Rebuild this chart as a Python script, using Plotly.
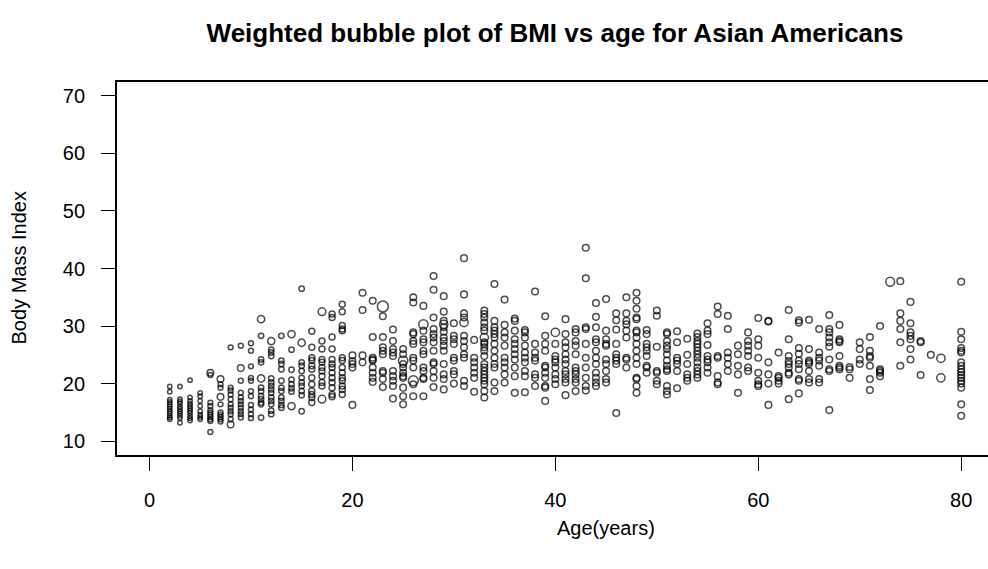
import plotly.graph_objects as go

# ---- data (age in years, BMI) ----
ages = [2, 3, 4, 5, 6, 7, 8, 9, 10, 11, 12, 13, 14, 15, 16, 17, 18, 19,
        20, 21, 22, 23, 24, 25, 26, 27, 28, 29, 30, 31, 32, 33, 34, 35, 36, 37, 38, 39,
        40, 41, 42, 43, 44, 45, 46, 47, 48, 49, 50, 51, 52, 53, 54, 55, 56, 57, 58, 59,
        60, 61, 62, 63, 64, 65, 66, 67, 68, 69, 70, 71, 72, 73, 74, 75, 76, 77, 78, 80]

bmi_by_age = [
    [19.5, 18.6, 17.2, 16.8, 16.4, 16.0, 15.6, 15.2, 14.8, 14.4, 14.1, 13.8],
    [19.5, 17.3, 16.9, 16.5, 16.0, 15.6, 15.2, 14.8, 14.4, 14.0, 13.2],
    [20.6, 17.6, 17.0, 16.5, 16.1, 15.7, 15.3, 14.9, 14.4, 14.0, 13.6],
    [18.4, 17.8, 17.0, 16.1, 15.2, 14.6, 14.2, 13.8],
    [21.9, 21.5, 16.7, 16.1, 15.4, 15.0, 14.6, 14.2, 13.8, 13.5, 11.6],
    [20.8, 19.9, 19.3, 17.7, 16.4, 15.0, 14.6, 14.2, 13.8, 13.4],
    [26.3, 19.3, 18.8, 18.1, 17.3, 16.4, 15.8, 15.2, 14.7, 13.8, 12.9],
    [26.6, 22.7, 20.5, 18.4, 17.6, 17.0, 16.4, 15.8, 15.2, 14.7, 14.1],
    [27.0, 25.7, 23.0, 21.0, 20.5, 18.7, 17.8, 16.3, 15.5, 14.7, 14.0],
    [31.2, 28.3, 24.2, 23.7, 20.9, 19.3, 18.7, 17.8, 17.3, 16.7, 16.4, 14.1],
    [27.4, 25.9, 25.4, 24.8, 20.9, 20.2, 19.6, 19.0, 18.4, 17.6, 17.0, 16.4, 15.3, 14.7],
    [28.3, 24.0, 23.4, 22.5, 20.5, 19.3, 18.7, 17.6, 17.0, 16.3, 15.8],
    [28.6, 25.9, 22.4, 20.7, 19.9, 19.2, 18.6, 16.1],
    [36.5, 27.1, 23.7, 23.1, 22.2, 21.0, 20.2, 19.6, 18.7, 18.0, 15.2],
    [29.1, 26.3, 24.5, 24.0, 23.1, 22.5, 21.0, 19.9, 18.7, 18.1, 17.6, 16.7],
    [32.5, 27.4, 26.0, 24.2, 23.7, 22.8, 22.2, 21.3, 20.2, 19.6, 17.3],
    [32.1, 31.5, 28.1, 26.0, 24.2, 23.4, 22.8, 21.9, 21.0, 20.2, 19.3, 18.1, 17.7],
    [33.8, 32.5, 30.1, 29.5, 29.2, 24.5, 24.0, 22.8, 21.9, 21.0, 20.5, 19.6, 19.0, 18.1],
    [24.9, 23.9, 23.4, 22.8, 16.3],
    [35.8, 32.8, 24.9, 23.7],
    [34.4, 28.1, 24.5, 24.2, 24.0, 22.8, 21.9, 21.0, 20.3],
    [33.4, 31.7, 28.1, 26.3, 25.7, 25.1, 22.2, 21.9, 20.8, 19.4],
    [29.4, 27.4, 26.0, 25.4, 24.8, 22.2, 21.3, 20.5, 19.6, 17.4],
    [26.0, 25.1, 24.0, 23.4, 22.8, 21.9, 21.3, 21.0, 19.3, 17.8, 16.4],
    [35.0, 34.1, 28.9, 28.6, 27.4, 26.9, 24.5, 24.0, 22.8, 20.5, 19.9, 17.8],
    [33.5, 30.3, 29.2, 27.7, 27.2, 25.7, 25.1, 22.8, 22.2, 21.0, 20.8, 17.8],
    [38.7, 36.3, 31.5, 29.5, 28.6, 28.0, 27.2, 25.7, 23.7, 23.4, 22.2, 21.0, 19.4],
    [35.2, 32.5, 30.9, 30.3, 29.8, 29.0, 28.0, 27.4, 26.6, 25.7, 23.4, 21.6, 20.8, 19.0],
    [30.5, 28.3, 27.7, 26.9, 24.5, 24.0, 22.2, 21.6, 20.0],
    [41.8, 35.5, 32.2, 31.5, 30.6, 28.3, 27.4, 26.3, 25.1, 24.5, 20.5, 19.6],
    [27.6, 24.5, 23.7, 22.8, 21.9, 21.0, 18.6],
    [32.7, 32.1, 31.5, 30.6, 29.8, 29.2, 28.0, 27.2, 26.9, 26.3, 25.7, 24.8, 23.4, 22.8,
     22.2, 21.6, 21.0, 20.5, 19.9, 18.7, 17.6],
    [37.3, 30.9, 29.8, 29.2, 28.6, 28.0, 26.9, 25.7, 24.5, 23.4, 22.8, 20.2, 18.7],
    [34.6, 30.2, 28.9, 28.0, 26.6, 24.5, 23.7, 22.8, 21.6, 20.2],
    [31.3, 30.9, 29.2, 27.7, 26.9, 26.0, 25.1, 24.2, 22.8, 21.3, 18.4],
    [29.3, 28.9, 28.0, 26.6, 25.4, 24.5, 23.7, 22.2, 21.3, 18.5],
    [36.0, 26.9, 25.4, 24.5, 24.0, 21.6, 21.0, 19.6],
    [31.7, 28.3, 26.9, 25.7, 23.1, 22.8, 21.9, 21.0, 19.6, 19.3, 17.0],
    [28.9, 26.9, 24.8, 24.2, 23.7, 22.8, 21.6, 20.8, 19.9],
    [31.2, 28.6, 27.2, 26.3, 25.1, 24.2, 23.4, 22.2, 21.6, 20.8, 20.2, 18.0],
    [29.5, 28.9, 27.4, 26.6, 25.1, 22.8, 22.2, 21.6, 20.8, 20.2, 18.7],
    [43.6, 38.3, 29.8, 29.5, 26.9, 24.5, 22.8, 21.0, 19.6, 18.8],
    [34.0, 31.6, 29.8, 27.7, 27.2, 25.7, 24.5, 23.4, 21.9, 21.0, 20.2, 19.6],
    [34.7, 29.2, 27.7, 26.9, 26.6, 24.2, 23.4, 22.2, 20.8, 20.2],
    [32.2, 31.0, 29.4, 26.9, 25.1, 24.5, 24.0, 23.4, 14.9],
    [35.0, 32.2, 30.9, 30.3, 29.2, 28.0, 24.5, 24.2, 22.8],
    [35.8, 34.4, 33.0, 31.5, 31.2, 29.2, 28.9, 28.0, 26.9, 25.7, 24.5, 23.4, 21.0, 20.8,
     19.6, 18.4],
    [29.3, 28.6, 26.9, 26.3, 25.7, 24.8, 23.1, 22.8, 21.9],
    [32.7, 31.8, 26.4, 22.2, 21.9, 20.5, 19.9],
    [28.9, 28.6, 27.4, 26.6, 26.0, 25.1, 24.0, 23.1, 22.5, 22.2, 19.6, 18.7, 18.1],
    [29.1, 27.2, 24.5, 24.0, 23.4, 22.2, 19.2],
    [27.8, 25.0, 23.4, 21.6, 21.0, 20.5],
    [28.7, 28.1, 27.4, 26.9, 26.3, 25.7, 25.1, 24.5, 23.7, 22.8, 22.2, 21.6, 21.0],
    [30.5, 29.2, 28.6, 26.7, 24.8, 24.2, 23.7, 22.8, 21.9],
    [33.4, 32.1, 24.8, 24.5, 21.3, 20.2, 19.9],
    [31.8, 29.5, 25.4, 24.5, 23.4, 22.2],
    [26.6, 25.1, 23.1, 21.6, 18.4],
    [28.9, 27.4, 26.6, 25.7, 24.8, 22.8, 22.2],
    [31.4, 27.7, 26.6, 24.5, 21.9, 20.5, 19.9, 19.6],
    [30.9, 30.8, 23.7, 21.6, 20.0, 16.3],
    [25.4, 21.3, 21.0, 20.5, 20.0],
    [32.8, 27.7, 24.8, 23.9, 23.4, 22.8, 21.9, 21.6, 17.3],
    [31.0, 30.6, 26.2, 25.2, 24.0, 23.4, 22.5, 20.8, 20.5, 18.3],
    [31.1, 26.0, 24.0, 23.7, 23.4, 22.2, 20.8, 20.2],
    [29.5, 25.4, 24.5, 24.0, 23.1, 20.8, 20.2],
    [31.9, 29.5, 28.9, 28.0, 27.2, 26.4, 24.2, 22.5, 22.2, 15.4],
    [30.2, 27.7, 27.4, 27.2, 24.8, 23.1, 22.8, 22.5],
    [22.9, 22.5, 21.0],
    [27.2, 26.0, 24.2, 23.4],
    [28.1, 25.7, 24.8, 24.5, 23.1, 20.8, 18.9],
    [30.0, 22.5, 22.2, 21.9, 21.3],
    [37.7],
    [37.8, 32.2, 30.9, 29.5, 27.2, 23.1],
    [34.2, 30.5, 28.9, 28.3, 27.7, 26.0, 24.2],
    [27.4, 27.2, 21.5],
    [25.0],
    [24.4, 21.0],
    [37.7, 29.0, 27.7, 26.2, 25.7, 25.4, 23.7, 23.1, 22.5, 22.0, 21.5, 21.0, 20.5, 20.0,
     19.3, 16.4, 14.4],
]

# typical survey weight of a respondent by age band (sets circle area)
weight_band_start = [2, 6, 11, 16, 20]
weight_band_value = [4.0, 5.0, 6.0, 7.5, 9.0]

# respondents with notably larger weights
big_age = [6, 7, 7, 8, 9, 11, 11, 12, 14, 14, 15, 17, 17, 23, 25, 26, 27, 29, 31, 33, 40,
           73, 78, 78]
big_bmi = [21.9, 20.8, 17.7, 12.9, 22.7, 31.2, 20.9, 27.4, 28.6, 16.1, 27.1, 32.5, 17.3,
           33.4, 24.0, 20.5, 30.3, 30.3, 30.6, 28.0, 28.9, 37.7, 24.4, 21.0]
big_weight = [9, 9, 9, 9, 9, 11, 11, 11, 11, 11, 11, 12, 12, 25, 18, 20, 18, 14, 14, 14, 14,
              16, 14, 14]

x_ticks = [0, 20, 40, 60, 80]
y_ticks = [10, 20, 30, 40, 50, 60, 70]

# ---- build flat arrays ----
big_lookup = {(a, b): w for a, b, w in zip(big_age, big_bmi, big_weight)}


def band_weight(a):
    w = weight_band_value[0]
    for s, v in zip(weight_band_start, weight_band_value):
        if a >= s:
            w = v
    return w


xs, ys, ws = [], [], []
for a, vals in zip(ages, bmi_by_age):
    for b in vals:
        xs.append(a)
        ys.append(b)
        ws.append(big_lookup.get((a, b), band_weight(a)))

sizes = [2.2 * (w ** 0.5) for w in ws]

FONT = "Liberation Sans, Arial, Helvetica, sans-serif"

fig = go.Figure()
fig.add_trace(go.Scatter(
    x=xs, y=ys, mode="markers",
    marker=dict(symbol="circle-open", size=sizes, color="black",
                line=dict(width=1.5, color="black")),
    hoverinfo="x+y", showlegend=False,
))

fig.update_layout(
    width=988, height=569,
    margin=dict(l=117, r=0, t=82, b=114),
    paper_bgcolor="white", plot_bgcolor="white",
    font=dict(family=FONT, size=20, color="black"),
    title=dict(text="<b>Weighted bubble plot of BMI vs age for Asian Americans</b>",
               x=555 / 988, xanchor="center", y=1 - 33 / 569, yanchor="middle",
               font=dict(family=FONT, size=26, color="black")),
    xaxis=dict(range=[-3.2, 82.64], tickvals=x_ticks, ticktext=[str(v) for v in x_ticks],
               showgrid=False, zeroline=False, showline=True, mirror=True,
               linecolor="black", linewidth=1.8, ticks="outside", ticklen=14,
               tickwidth=1.2, tickcolor="black", ticklabelstandoff=12,
               tickfont=dict(size=20)),
    yaxis=dict(range=[7.6, 72.4], tickvals=y_ticks, ticktext=[str(v) for v in y_ticks],
               showgrid=False, zeroline=False, showline=True, mirror=False,
               linecolor="black", linewidth=1.8, ticks="outside", ticklen=14,
               tickwidth=1.2, tickcolor="black", ticklabelstandoff=12,
               tickfont=dict(size=20)),
    annotations=[
        dict(text="Age(years)", x=555 / 988, xref="paper", xanchor="center",
             y=-(528 - 455) / (455 - 82), yref="paper", yanchor="middle",
             showarrow=False, font=dict(family=FONT, size=20, color="black")),
        dict(text="Body Mass Index", x=-(117 - 18) / (988 - 117), xref="paper",
             xanchor="center", y=0.5, yref="paper", yanchor="middle", textangle=-90,
             showarrow=False, font=dict(family=FONT, size=20, color="black")),
    ],
)

fig.write_html("out.html")
